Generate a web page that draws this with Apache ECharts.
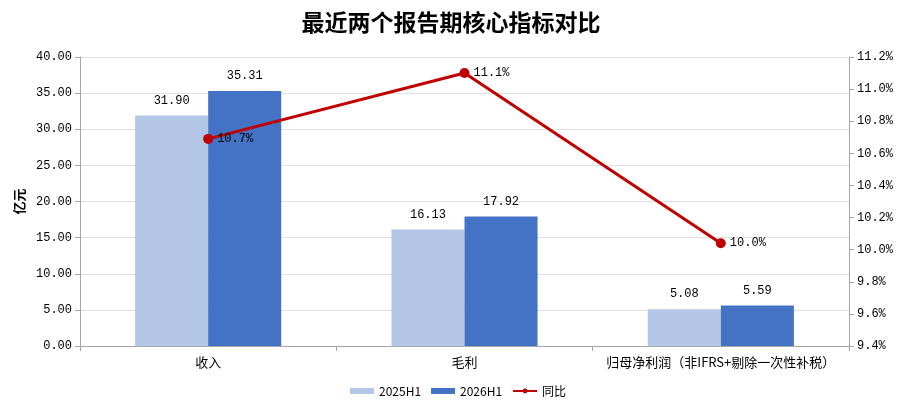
<!DOCTYPE html>
<html><head><meta charset="utf-8">
<script src="https://cdn.jsdelivr.net/npm/echarts@6/dist/echarts.min.js"></script>
<style>html,body{margin:0;padding:0;background:#fff}#c{width:902px;height:408px}</style>
</head><body><div id="c"></div>
<script>
const categories = ['收入', '毛利', '归母净利润（非IFRS+剔除一次性补税）'];
const h2025 = [31.90, 16.13, 5.08];
const h2026 = [35.31, 17.92, 5.59];
const yoy = [10.69, 11.10, 10.04];
const seriesNames = ['2025H1', '2026H1', '同比'];

const font = '"Noto Sans CJK SC", "Noto Sans", sans-serif';
const numFont = '"Liberation Mono", "Noto Sans CJK SC", monospace';
const chart = echarts.init(document.getElementById('c'));
chart.setOption({
  animation: false,
  textStyle: { fontFamily: font },
  title: {
    text: '最近两个报告期核心指标对比', left: 'center', top: 6,
    textStyle: { fontSize: 23, fontWeight: 'bold', color: '#000', fontFamily: font }
  },
  legend: {
    top: 380, left: 345, itemGap: 10, itemWidth: 24, itemHeight: 6,
    textStyle: { fontSize: 12, color: '#000', fontFamily: font },
    data: [
      { name: seriesNames[0], icon: 'rect' },
      { name: seriesNames[1], icon: 'rect' },
      { name: seriesNames[2] }
    ]
  },
  grid: { left: 80, right: 53, top: 57, bottom: 62 },
  xAxis: {
    type: 'category', data: categories,
    axisLine: { lineStyle: { color: '#a6a6a6' } },
    axisTick: { show: true, lineStyle: { color: '#a6a6a6' } },
    axisLabel: { color: '#000', fontSize: 13, margin: 10, interval: 0 }
  },
  yAxis: [
    {
      type: 'value', min: 0, max: 40, interval: 5,
      name: '亿元', nameLocation: 'middle', nameGap: 52, nameRotate: 90,
      nameTextStyle: { fontWeight: 'bold', fontSize: 13, color: '#000' },
      axisLine: { show: true, lineStyle: { color: '#a6a6a6' } },
      axisTick: { show: true, lineStyle: { color: '#a6a6a6' } },
      axisLabel: { color: '#000', fontSize: 12, fontFamily: numFont, formatter: v => v.toFixed(2) },
      splitLine: { lineStyle: { color: '#e0e0e0' } }
    },
    {
      type: 'value', min: 9.4, max: 11.2, interval: 0.2,
      axisLine: { show: true, lineStyle: { color: '#a6a6a6' } },
      axisTick: { show: true, lineStyle: { color: '#a6a6a6' } },
      axisLabel: { color: '#000', fontSize: 12, fontFamily: numFont, formatter: v => v.toFixed(1) + '%' },
      splitLine: { show: false }
    }
  ],
  series: [
    {
      name: seriesNames[0], type: 'bar', data: h2025, barWidth: '28.5%', barGap: '0%',
      itemStyle: { color: '#B4C7E7' },
      label: { show: true, position: 'top', distance: 9, color: '#000', fontSize: 12, fontFamily: numFont, formatter: p => p.value.toFixed(2) }
    },
    {
      name: seriesNames[1], type: 'bar', data: h2026, barWidth: '28.5%',
      itemStyle: { color: '#4472C4' },
      label: { show: true, position: 'top', distance: 9, color: '#000', fontSize: 12, fontFamily: numFont, formatter: p => p.value.toFixed(2) }
    },
    {
      name: seriesNames[2], type: 'line', yAxisIndex: 1, data: yoy,
      symbol: 'circle', symbolSize: 10,
      lineStyle: { color: '#C00000', width: 3 },
      itemStyle: { color: '#C00000' },
      label: { show: true, position: 'right', distance: 4, color: '#000', fontSize: 12, fontFamily: numFont, formatter: p => p.value.toFixed(1) + '%' },
      z: 5
    }
  ]
});
</script></body></html>
